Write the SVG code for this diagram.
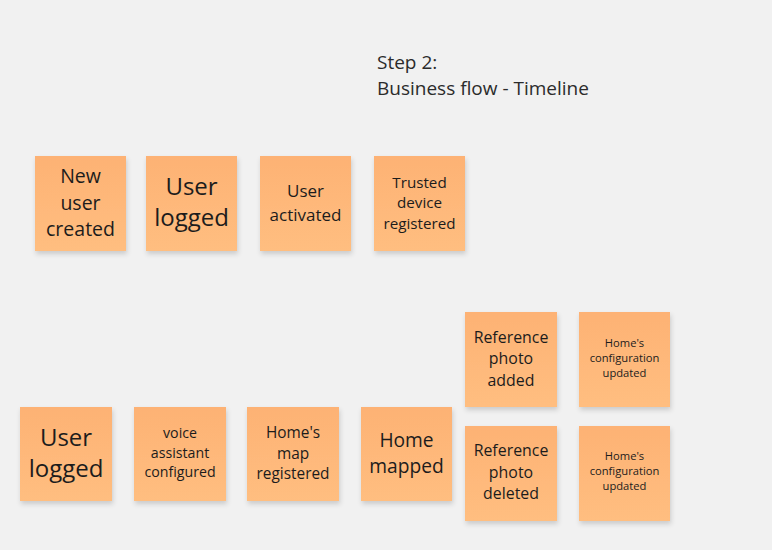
<svg xmlns="http://www.w3.org/2000/svg" width="772" height="550" viewBox="0 0 772 550">
<defs>
<linearGradient id="g" x1="0" y1="0" x2="0" y2="1">
<stop offset="0" stop-color="#FDB274"/>
<stop offset="1" stop-color="#FFBE80"/>
</linearGradient>
<filter id="sh" x="-20%" y="-20%" width="150%" height="150%">
<feDropShadow dx="1" dy="3" stdDeviation="2.5" flood-color="#000" flood-opacity="0.16"/>
</filter>
</defs>
<style>
.s{fill:url(#g);filter:url(#sh)}
.t{font-family:"Open Sans","Noto Sans","Liberation Sans",sans-serif;fill:#1c1c1c;text-anchor:middle}
.h{font-family:"Open Sans","Noto Sans","Liberation Sans",sans-serif;fill:#2b2b2b;font-size:19px}
</style>
<rect width="772" height="550" fill="#F1F1F1"/>
<g id="title">
<text class="h" x="377" y="69">Step 2:</text>
<text class="h" x="377" y="95">Business flow - Timeline</text>
</g>
<g id="connectors"></g>
<g id="n1"><rect class="s" x="35" y="156" width="91" height="95"/>
<text class="t" font-size="19.5" x="80.5"><tspan x="80.5" y="183">New</tspan><tspan x="80.5" y="210">user</tspan><tspan x="80.5" y="236">created</tspan></text></g>
<g id="n2"><rect class="s" x="146" y="156" width="91" height="95"/>
<text class="t" font-size="24" x="191.5"><tspan x="191.5" y="195">User</tspan><tspan x="191.5" y="226">logged</tspan></text></g>
<g id="n3"><rect class="s" x="260" y="156" width="91" height="95"/>
<text class="t" font-size="17" x="305.5"><tspan x="305.5" y="196.5">User</tspan><tspan x="305.5" y="220.5">activated</tspan></text></g>
<g id="n4"><rect class="s" x="374" y="156" width="91" height="95"/>
<text class="t" font-size="15.2" x="419.5"><tspan x="419.5" y="187.5">Trusted</tspan><tspan x="419.5" y="208">device</tspan><tspan x="419.5" y="228.5">registered</tspan></text></g>
<g id="n5"><rect class="s" x="20" y="407" width="92" height="94"/>
<text class="t" font-size="24" x="66"><tspan x="66" y="445.5">User</tspan><tspan x="66" y="476.5">logged</tspan></text></g>
<g id="n6"><rect class="s" x="134" y="407" width="92" height="94"/>
<text class="t" font-size="14.2" x="180"><tspan x="180" y="438">voice</tspan><tspan x="180" y="457.5">assistant</tspan><tspan x="180" y="477">configured</tspan></text></g>
<g id="n7"><rect class="s" x="247" y="407" width="92" height="94"/>
<text class="t" font-size="15.4" x="293"><tspan x="293" y="438">Home's</tspan><tspan x="293" y="458.5">map</tspan><tspan x="293" y="479">registered</tspan></text></g>
<g id="n8"><rect class="s" x="361" y="407" width="91" height="94"/>
<text class="t" font-size="19.2" x="406.5"><tspan x="406.5" y="446.5">Home</tspan><tspan x="406.5" y="473.3">mapped</tspan></text></g>
<g id="n9"><rect class="s" x="465" y="312" width="92" height="95"/>
<text class="t" font-size="15.9" x="511"><tspan x="511" y="342.7">Reference</tspan><tspan x="511" y="364.3">photo</tspan><tspan x="511" y="386">added</tspan></text></g>
<g id="n10"><rect class="s" x="579" y="312" width="91" height="95"/>
<text class="t" font-size="11.2" x="624.5"><tspan x="624.5" y="346.5">Home's</tspan><tspan x="624.5" y="362">configuration</tspan><tspan x="624.5" y="377">updated</tspan></text></g>
<g id="n11"><rect class="s" x="465" y="426" width="92" height="95"/>
<text class="t" font-size="15.9" x="511"><tspan x="511" y="456">Reference</tspan><tspan x="511" y="477.7">photo</tspan><tspan x="511" y="499.3">deleted</tspan></text></g>
<g id="n12"><rect class="s" x="579" y="426" width="91" height="95"/>
<text class="t" font-size="11.2" x="624.5"><tspan x="624.5" y="459.5">Home's</tspan><tspan x="624.5" y="475">configuration</tspan><tspan x="624.5" y="490">updated</tspan></text></g>
</svg>
